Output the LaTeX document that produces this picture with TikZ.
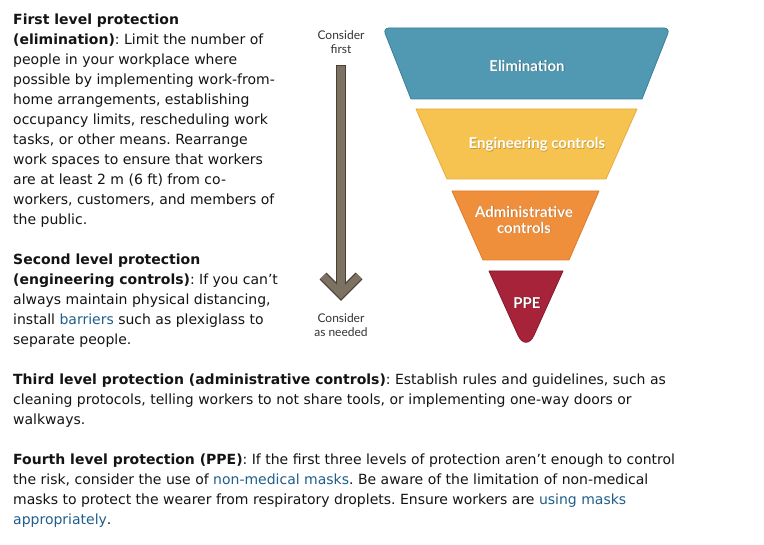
\documentclass[tikz,border=0pt]{standalone}
\usepackage{fontspec}
\setmainfont{DejaVu Sans}
\newfontfamily\labfont{Lato}
\definecolor{linkc}{HTML}{1F5E8A}
\definecolor{elimF}{HTML}{5199B3}
\definecolor{elimD}{HTML}{3A7F99}
\definecolor{elimS}{HTML}{2E6478}
\definecolor{engF}{HTML}{F6C350}
\definecolor{engD}{HTML}{E9AC3C}
\definecolor{engS}{HTML}{C99A3A}
\definecolor{admF}{HTML}{EF8F3C}
\definecolor{admD}{HTML}{DE7A2A}
\definecolor{admS}{HTML}{B86A2A}
\definecolor{ppeF}{HTML}{A6233A}
\definecolor{ppeD}{HTML}{861A2D}
\definecolor{ppeS}{HTML}{5E1220}
\definecolor{arrF}{HTML}{7D7262}
\definecolor{arrD}{HTML}{4A4035}
\newcommand{\lnk}[1]{\textcolor{linkc}{#1}}
\newcommand{\shd}[2]{\makebox[0pt][l]{\hspace{0.7pt}\raisebox{-0.7pt}{\textcolor{#1}{#2}}}#2}
\frenchspacing
\begin{document}
\begin{tikzpicture}[x=1pt,y=-1pt,
  txt/.style={anchor=base west, inner sep=0pt, text=black!92,
    font=\fontsize{14}{20}\selectfont\frenchspacing},
  stagelabel/.style={text=white, inner sep=0pt, align=center,
    font=\labfont\bfseries\fontsize{15}{16}\selectfont},
  sidelabel/.style={text=black!80, inner sep=0pt, align=center,
    font=\labfont\fontsize{12}{14}\selectfont},
  stage/.style={line width=0.8pt, line join=round}]
\useasboundingbox (0,0) rectangle (764,545);
\fill[white] (0,0) rectangle (764,545);

% ---------- left text, paragraph 1 ----------
\node[txt] (p1a) at (13,25)  {\textbf{First level protection}};
\node[txt] (p1b) at (13,45)  {\textbf{(elimination)}: Limit the number of};
\node[txt] (p1c) at (13,65)  {people in your workplace where};
\node[txt] (p1d) at (13,85)  {possible by implementing work-from-};
\node[txt] (p1e) at (13,105) {home arrangements, establishing};
\node[txt] (p1f) at (13,125) {occupancy limits, rescheduling work};
\node[txt] (p1g) at (13,145) {tasks, or other means. Rearrange};
\node[txt] (p1h) at (13,165) {work spaces to ensure that workers};
\node[txt] (p1i) at (13,185) {are at least 2 m (6 ft) from co-};
\node[txt] (p1j) at (13,205) {workers, customers, and members of};
\node[txt] (p1k) at (13,225) {the public.};
% ---------- paragraph 2 ----------
\node[txt] (p2a) at (13,265) {\textbf{Second level protection}};
\node[txt] (p2b) at (13,285) {\textbf{(engineering controls)}: If you can’t};
\node[txt] (p2c) at (13,305) {always maintain physical distancing,};
\node[txt] (p2d) at (13,325) {install \lnk{barriers} such as plexiglass to};
\node[txt] (p2e) at (13,345) {separate people.};
% ---------- paragraph 3 ----------
\node[txt] (p3a) at (13,385) {\textbf{Third level protection (administrative controls)}: Establish rules and guidelines, such as};
\node[txt] (p3b) at (13,405) {cleaning protocols, telling workers to not share tools, or implementing one-way doors or};
\node[txt] (p3c) at (13,425) {walkways.};
% ---------- paragraph 4 ----------
\node[txt] (p4a) at (13,465) {\textbf{Fourth level protection (PPE)}: If the first three levels of protection aren’t enough to control};
\node[txt] (p4b) at (13,485) {the risk, consider the use of \lnk{non-medical masks}. Be aware of the limitation of non-medical};
\node[txt] (p4c) at (13,505) {masks to protect the wearer from respiratory droplets. Ensure workers are \lnk{using masks}};
\node[txt] (p4d) at (13,525) {\lnk{appropriately}.};

% ---------- arrow ----------
\coordinate (atop) at (341,65);
\coordinate (atip) at (341,294);
\coordinate (aleft) at (323,276);
\coordinate (aright) at (359,276);
\draw[arrD, line width=9.6pt, line join=miter] (atop) -- (atip);
\draw[arrD, line width=9.6pt, line join=miter] (aleft) -- (atip) -- (aright);
\draw[arrF, line width=7.4pt, line join=miter, shorten <=1.1pt] (atop) -- (atip);
\draw[arrF, line width=7.4pt, line join=miter] (aleft) -- (atip) -- (aright);
\node[sidelabel] (cfirst) at (341,42) {Consider\\first};
\node[sidelabel] (cneed) at (341,325) {Consider\\as needed};

% ---------- funnel ----------
\path[stage, fill=elimF, draw=elimD]
  (411,99) [rounded corners=6pt] -- (383,28) -- (670,28) [sharp corners] -- (642,99) -- cycle;
\path[stage, fill=engF, draw=engD]
  (447,179) -- (416,109) -- (637,109) -- (606,179) -- cycle;
\path[stage, fill=admF, draw=admD]
  (483,260) -- (452,191) -- (599,191) -- (569,260) -- cycle;
\path[stage, fill=ppeF, draw=ppeD]
  (489,271) -- (563,271) [rounded corners=20pt] -- (526,353) [sharp corners] -- cycle;

\node[stagelabel] (elim) at (527,66) {\shd{elimS}{Elimination}};
\node[stagelabel] (eng) at (537,145) {\shd{engS}{Engineering controls}};
\node[stagelabel] (adm) at (524,220) {\shd{admS}{Administrative}\\\shd{admS}{controls}};
\node[stagelabel] (ppe) at (527,303) {\shd{ppeS}{PPE}};
\end{tikzpicture}
\end{document}
